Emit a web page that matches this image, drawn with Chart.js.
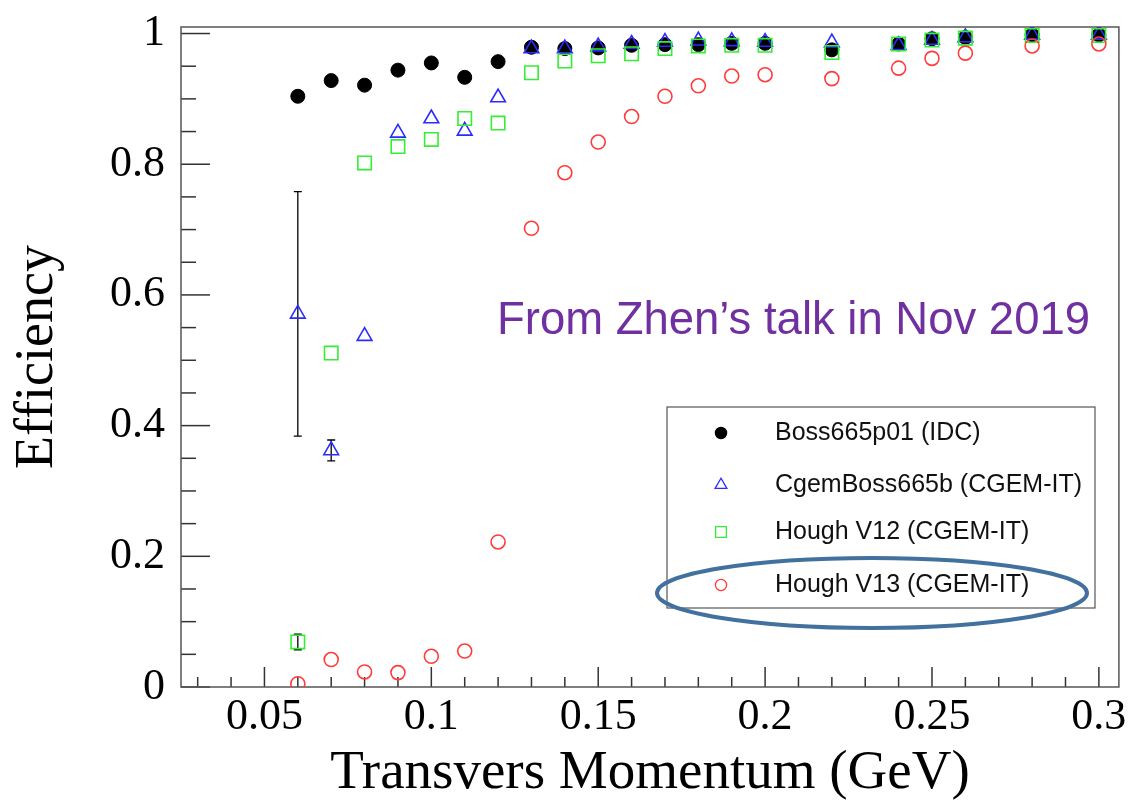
<!DOCTYPE html>
<html>
<head>
<meta charset="utf-8">
<script src="https://cdn.jsdelivr.net/npm/chart.js@4/dist/chart.umd.min.js"></script>
<style>
  body { margin: 0; background: #fff; }
  #wrap { width: 1130px; height: 807px; }
</style>
</head>
<body>
<div id="wrap"><canvas id="chEff" width="1130" height="807"></canvas></div>
<script>
// pT bins (GeV)
var momentum = [0.06, 0.07, 0.08, 0.09, 0.10, 0.11, 0.12, 0.13, 0.14, 0.15, 0.16,
                0.17, 0.18, 0.19, 0.20, 0.22, 0.24, 0.25, 0.26, 0.28, 0.30];

// efficiencies
var boss665 = [0.904, 0.928, 0.921, 0.944, 0.955, 0.933, 0.957, 0.979, 0.977, 0.978, 0.982,
               0.983, 0.983, 0.985, 0.985, 0.975, 0.984, 0.992, 0.994, 0.998, 0.998];
var cgemBoss = [0.571, 0.362, 0.537, 0.848, 0.870, 0.851, 0.902, 0.977, 0.977, 0.980, 0.984,
                0.987, 0.989, 0.988, 0.987, 0.986, 0.982, 0.990, 0.994, 0.998, 0.998];
var houghV12 = [0.069, 0.511, 0.802, 0.827, 0.838, 0.870, 0.863, 0.940, 0.958, 0.966, 0.969,
                0.977, 0.981, 0.982, 0.982, 0.971, 0.984, 0.990, 0.993, 0.997, 0.997];
var houghV13 = [0.005, 0.042, 0.023, 0.022, 0.047, 0.055, 0.222, 0.702, 0.787, 0.834, 0.873,
                0.904, 0.920, 0.935, 0.937, 0.931, 0.947, 0.962, 0.970, 0.981, 0.984];

// visible error bars (only the big ones show)
var cgemBossErr = [0.187, 0.016, 0, 0, 0, 0, 0, 0, 0, 0, 0, 0, 0, 0, 0, 0, 0, 0, 0, 0, 0];
var houghV12Err = [0.012, 0, 0, 0, 0, 0, 0, 0, 0, 0, 0, 0, 0, 0, 0, 0, 0, 0, 0, 0, 0];

var seriesNames = ['Boss665p01 (IDC)', 'CgemBoss665b (CGEM-IT)', 'Hough V12 (CGEM-IT)', 'Hough V13 (CGEM-IT)'];
var xTickLabels = ['0.05', '0.1', '0.15', '0.2', '0.25', '0.3'];
var yTickLabels = ['0', '0.2', '0.4', '0.6', '0.8', '1'];
var note = 'From Zhen\u2019s talk in Nov 2019';

function pts(ys) {
  return momentum.map(function (x, i) { return {x: x, y: ys[i]}; });
}

var serif = "'Liberation Serif', 'Times New Roman', serif";

// ROOT style: inward ticks, full frame, error bars, boxed legend
var rootStyle = {
  id: 'rootStyle',
  beforeDatasetsDraw: function (chart) {
    var ctx = chart.ctx, a = chart.chartArea;
    var sx = chart.scales.x, sy = chart.scales.y;
    ctx.save();
    ctx.strokeStyle = '#333';
    ctx.lineWidth = 1.5;
    // x ticks
    sx.ticks.forEach(function (t) {
      var px = sx.getPixelForValue(t.value);
      var len = (Math.round(t.value * 100) % 5 === 0) ? 20 : 10;
      ctx.beginPath(); ctx.moveTo(px, a.bottom); ctx.lineTo(px, a.bottom - len); ctx.stroke();
    });
    // y ticks
    sy.ticks.forEach(function (t) {
      var py = sy.getPixelForValue(t.value);
      var len = (Math.round(t.value * 100) % 20 === 0) ? 29 : 15;
      ctx.beginPath(); ctx.moveTo(a.left, py); ctx.lineTo(a.left + len, py); ctx.stroke();
    });
    ctx.strokeStyle = '#555';
    ctx.strokeRect(a.left, a.top, a.right - a.left, a.bottom - a.top);

    // error bars
    ctx.strokeStyle = '#000';
    ctx.lineWidth = 1.3;
    [[cgemBoss, cgemBossErr], [houghV12, houghV12Err]].forEach(function (s) {
      s[0].forEach(function (v, i) {
        var e = s[1][i];
        if (!e) return;
        var px = sx.getPixelForValue(momentum[i]);
        var top = sy.getPixelForValue(v + e), bot = sy.getPixelForValue(Math.max(v - e, 0));
        ctx.beginPath();
        ctx.moveTo(px, top); ctx.lineTo(px, bot);
        ctx.moveTo(px - 4, top); ctx.lineTo(px + 4, top);
        ctx.moveTo(px - 4, bot); ctx.lineTo(px + 4, bot);
        ctx.stroke();
      });
    });
    ctx.restore();
  },
  afterDraw: function (chart) {
    var ctx = chart.ctx;
    ctx.save();
    // note
    ctx.fillStyle = '#7030A0';
    ctx.font = "47px 'Liberation Sans Narrow', 'Liberation Sans', sans-serif";
    ctx.textBaseline = 'alphabetic';
    ctx.textAlign = 'left';
    ctx.fillText(note, 497, 334, 593);

    // legend box
    var lx = 667, ly = 407, lw = 428, lh = 201;
    ctx.fillStyle = '#fff';
    ctx.fillRect(lx, ly, lw, lh);
    ctx.strokeStyle = '#555';
    ctx.lineWidth = 1.2;
    ctx.strokeRect(lx, ly, lw, lh);
    var rows = [433, 485, 532, 585];
    ctx.font = "25px 'Liberation Sans', Arial, sans-serif";
    ctx.textBaseline = 'middle';
    chart.data.datasets.forEach(function (ds, i) {
      ctx.save();
      ctx.strokeStyle = ds.borderColor;
      ctx.fillStyle = ds.backgroundColor;
      ctx.lineWidth = 1.3;
      Chart.helpers.drawPoint(ctx, {pointStyle: ds.pointStyle, radius: ds.pointRadius * 0.8, borderWidth: 1.3}, 721, rows[i]);
      ctx.restore();
      ctx.fillStyle = '#111';
      ctx.fillText(ds.label, 775, rows[i]);
    });

    // highlight ellipse round the V13 entry
    ctx.strokeStyle = '#41719C';
    ctx.lineWidth = 4;
    ctx.beginPath();
    ctx.ellipse(872, 593, 215, 35, 0, 0, Math.PI * 2);
    ctx.stroke();
    ctx.restore();
  }
};

new Chart(document.getElementById('chEff'), {
  type: 'scatter',
  data: {
    datasets: [
      {label: seriesNames[0], data: pts(boss665), pointStyle: 'circle', pointRadius: 7,
       backgroundColor: '#000', borderColor: '#000', borderWidth: 1, order: 4},
      {label: seriesNames[1], data: pts(cgemBoss), pointStyle: 'triangle', pointRadius: 8.5,
       backgroundColor: 'rgba(0,0,0,0)', borderColor: '#2b2bff', borderWidth: 1.6, order: 3},
      {label: seriesNames[2], data: pts(houghV12), pointStyle: 'rect', pointRadius: 9.5,
       backgroundColor: 'rgba(0,0,0,0)', borderColor: '#33ee33', borderWidth: 1.6, order: 2},
      {label: seriesNames[3], data: pts(houghV13), pointStyle: 'circle', pointRadius: 7,
       backgroundColor: 'rgba(0,0,0,0)', borderColor: '#ff3b3b', borderWidth: 1.6, order: 1}
    ]
  },
  options: {
    responsive: false,
    animation: false,
    layout: {padding: {left: 0, right: 9, top: 27, bottom: 0}},
    plugins: {legend: {display: false}, tooltip: {enabled: false}},
    scales: {
      x: {
        type: 'linear', min: 0.025, max: 0.306,
        grid: {display: false}, border: {display: false},
        afterBuildTicks: function (s) {
          var t = [];
          for (var i = 3; i <= 30; i++) t.push({value: i / 100});
          s.ticks = t;
        },
        afterFit: function (s) { s.height = 120; },
        ticks: {
          autoSkip: false, maxRotation: 0, padding: 0, color: '#000',
          font: {family: serif, size: 44, lineHeight: 1},
          callback: function (v) {
            var k = Math.round(v * 100);
            return k % 5 === 0 ? xTickLabels[k / 5 - 1] : '';
          }
        },
        title: {display: true, text: 'Transvers Momentum (GeV)', color: '#000',
                font: {family: serif, size: 55}, padding: {top: 0, bottom: 0}}
      },
      y: {
        type: 'linear', min: 0, max: 1.01,
        grid: {display: false}, border: {display: false},
        afterBuildTicks: function (s) {
          var t = [];
          for (var i = 0; i <= 20; i++) t.push({value: i * 0.05});
          s.ticks = t;
        },
        afterFit: function (s) { s.width = 181; },
        ticks: {
          autoSkip: false, padding: 8, color: '#000',
          font: {family: serif, size: 44, lineHeight: 0.8},
          callback: function (v) {
            var k = Math.round(v * 100);
            return k % 20 === 0 ? yTickLabels[k / 20] : '';
          }
        },
        title: {display: true, text: 'Efficiency', color: '#000',
                font: {family: serif, size: 54}, padding: {top: 5, bottom: 0}}
      }
    }
  },
  plugins: [rootStyle]
});
</script>
</body>
</html>
